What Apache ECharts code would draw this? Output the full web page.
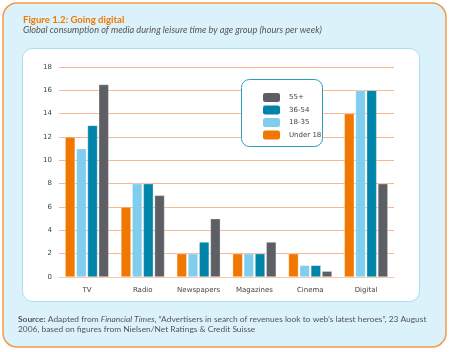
<!DOCTYPE html>
<html><head><meta charset="utf-8">
<script src="https://cdn.jsdelivr.net/npm/echarts@6/dist/echarts.min.js"></script>
<style>html,body{margin:0;padding:0;background:#fff}#c{width:450px;height:352px}</style>
</head><body><div id="c"></div>
<script>
const categories = ['TV','Radio','Newspapers','Magazines','Cinema','Digital'];
const under18 = [12, 6, 2, 2, 2, 14];
const age18_35 = [11, 8, 2, 2, 1, 16];
const age36_54 = [13, 8, 3, 2, 1, 16];
const age55plus = [16.5, 7, 5, 3, 0.5, 8];
const yTicks = [0,2,4,6,8,10,12,14,16,18];

const chart = echarts.init(document.getElementById('c'));
const mk = (name, data, color) => ({
  name, type:'bar', data, barWidth:10, barGap:'12%',
  itemStyle:{color, borderColor:'rgba(255,255,255,0.5)', borderWidth:0.6}
});
chart.setOption({
  animation:false,
  graphic:[
    {type:'rect', z:-10, shape:{x:3,y:3,width:443,height:344,r:14}, style:{fill:'#dcf2fb', stroke:'#f39a4a', lineWidth:1.5}},
    {type:'rect', z:-9, shape:{x:22.5,y:48.5,width:397,height:253,r:10}, style:{fill:'#ffffff', stroke:'#a8def0', lineWidth:1}},
    {type:'text', left:23, top:15, style:{text:'Figure 1.2: Going digital', fill:'#f07800', font:'bold 9.6px Lato'}},
    {type:'text', left:23, top:26, style:{text:'Global consumption of media during leisure time by age group (hours per week)', fill:'#555', font:'italic 9.2px Lato'}},
    {type:'rect', shape:{x:241.5,y:79.5,width:81,height:67,r:8}, style:{fill:'#fff', stroke:'#2a9fc0', lineWidth:1}, z:5},
    {type:'text', left:18, top:314, z:10, style:{
      rich:{b:{fontWeight:'bold',fill:'#555',fontSize:8.4,fontFamily:'Lato'}, n:{fill:'#555',fontSize:8.4,fontFamily:'Lato'}, i:{fontStyle:'italic',fill:'#555',fontSize:8.4,fontFamily:'Lato'}},
      text:'{b|Source:}{n| Adapted from }{i|Financial Times}{n|, \u201cAdvertisers in search of revenues look to web\u2019s latest heroes\u201d, 23 August}\n{n|2006, based on figures from Nielsen/Net Ratings & Credit Suisse}',
      lineHeight:10
    }}
  ],
  legend:{
    data:['55+','36-54','18-35','Under 18'],
    orient:'vertical', left:258, top:88, itemWidth:17, itemHeight:9, itemGap:3.5, z:10,
    textStyle:{fontSize:7, color:'#444', fontFamily:'DejaVu Sans', padding:[0,0,0,4]},
    itemStyle:{borderWidth:0}
  },
  grid:{left:59, right:56, top:67, bottom:75},
  xAxis:{type:'category', data:categories,
    axisLine:{lineStyle:{color:'#f8c8a8', width:1}}, axisTick:{show:false},
    axisLabel:{fontSize:7, color:'#444', fontFamily:'DejaVu Sans', margin:10}},
  yAxis:{type:'value', min:0, max:18, interval:2,
    axisLine:{show:false}, axisTick:{show:false},
    splitLine:{lineStyle:{color:'#f8b893', width:1}},
    axisLabel:{fontSize:7, color:'#444', fontFamily:'DejaVu Sans', margin:7,
      formatter:v=>yTicks.includes(v)?String(v):''}},
  series:[
    mk('Under 18', under18, '#f07800'),
    mk('18-35', age18_35, '#80cdee'),
    mk('36-54', age36_54, '#0084a9'),
    mk('55+', age55plus, '#5e5f64')
  ]
});
</script></body></html>
